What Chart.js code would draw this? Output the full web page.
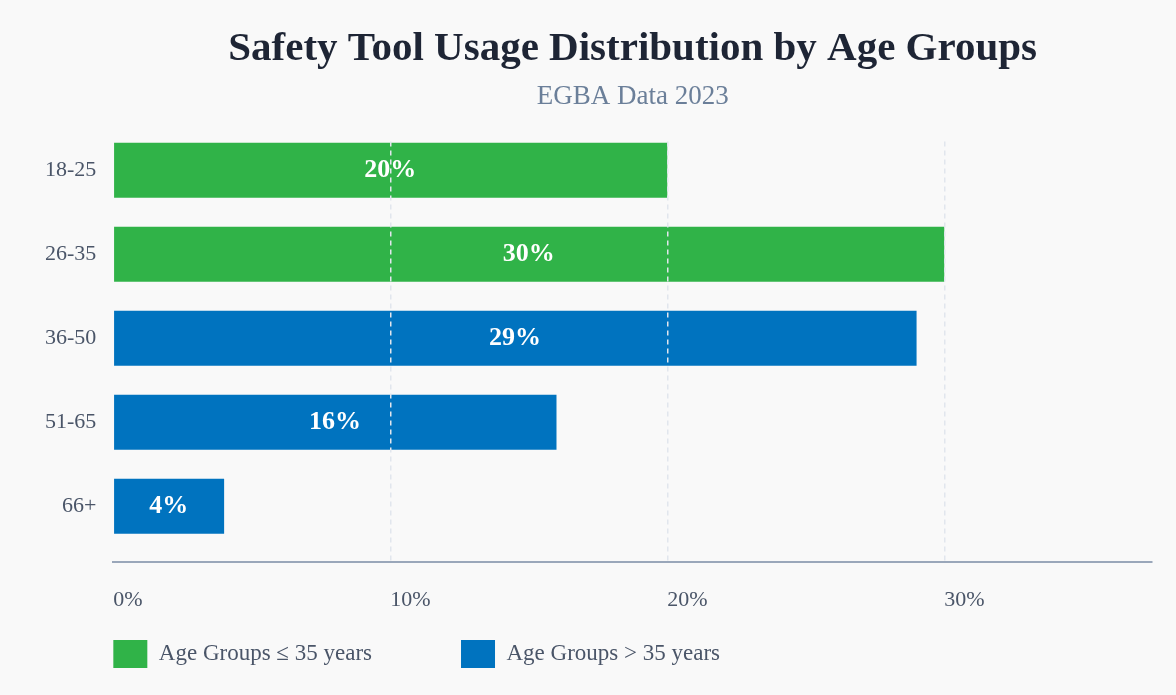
<!DOCTYPE html>
<html>
<head>
<meta charset="utf-8">
<script src="https://cdn.jsdelivr.net/npm/chart.js@4.4.0/dist/chart.umd.min.js"></script>
<style>
  html, body { margin: 0; padding: 0; background: #f9f9f9; }
  #wrap { width: 1176px; height: 695px; position: relative; }
</style>
</head>
<body>
<div id="wrap"><canvas id="usageChart"></canvas></div>
<script>
const ageGroups = ['18-25', '26-35', '36-50', '51-65', '66+'];
const youngUsage = [20, 30, null, null, null];
const olderUsage = [null, null, 29, 16, 4];
const legendLabels = ['Age Groups \u2264 35 years', 'Age Groups > 35 years'];
const xTicks = [0, 10, 20, 30];

const GREEN = '#30b348';
const BLUE = '#0073bf';
const SERIF = "'Liberation Serif', 'DejaVu Serif', serif";

function toPoints(values) {
    return values.map((v, i) => (v === null ? null : { x: v, y: i })).filter(p => p);
}

// paints the page background behind the chart
const bgPlugin = {
    id: 'bg',
    beforeDraw(chart) {
        const c = chart.ctx;
        c.save();
        c.fillStyle = '#f9f9f9';
        c.fillRect(0, 0, chart.width, chart.height);
        c.restore();
    }
};

// value labels in the middle of each bar
const barLabels = {
    id: 'barLabels',
    afterDatasetsDraw(chart) {
        const c = chart.ctx;
        const start = chart.scales.x.getPixelForValue(0);
        c.save();
        c.font = 'bold 26px ' + SERIF;
        c.fillStyle = '#ffffff';
        c.textAlign = 'center';
        c.textBaseline = 'middle';
        chart.data.datasets.forEach((ds, di) => {
            chart.getDatasetMeta(di).data.forEach((bar, i) => {
                c.fillText(ds.data[i].x + '%', (start + bar.x) / 2, bar.y);
            });
        });
        c.restore();
    }
};

// moves the legend row under the plot, starting at the plot's left edge
const legendPlace = {
    id: 'legendPlace',
    afterLayout(chart) {
        const lg = chart.legend;
        const pad = lg.options.labels.padding;
        const dx = chart.chartArea.left - (lg.left + pad);
        lg.left += dx;
        lg.right += dx;
        lg.top = 640 - pad;
        lg.bottom = chart.height;
        lg.height = lg.bottom - lg.top;
    }
};

const ctx = document.getElementById('usageChart').getContext('2d');

new Chart(ctx, {
    type: 'bar',
    data: {
        datasets: [
            {
                label: legendLabels[0],
                data: toPoints(youngUsage),
                backgroundColor: GREEN,
                borderWidth: 0
            },
            {
                label: legendLabels[1],
                data: toPoints(olderUsage),
                backgroundColor: BLUE,
                borderWidth: 0
            }
        ]
    },
    options: {
        indexAxis: 'y',
        responsive: true,
        maintainAspectRatio: false,
        animation: false,
        grouped: false,
        barPercentage: 0.655,
        categoryPercentage: 1,
        layout: { padding: { left: 28, right: 24, top: 0, bottom: 0 } },
        plugins: {
            title: {
                display: true,
                fullSize: false,
                text: 'Safety Tool Usage Distribution by Age Groups',
                color: '#1e2535',
                font: { family: SERIF, size: 41, weight: 'bold' },
                padding: { top: 25, bottom: 4 }
            },
            subtitle: {
                display: true,
                fullSize: false,
                text: 'EGBA Data 2023',
                color: '#6b7f99',
                font: { family: SERIF, size: 27 },
                padding: { top: 3, bottom: 28 }
            },
            legend: {
                position: 'bottom',
                align: 'start',
                maxHeight: 57,
                labels: {
                    boxWidth: 34,
                    boxHeight: 28,
                    padding: 89,
                    color: '#4a5568',
                    font: { family: SERIF, size: 23 }
                }
            },
            tooltip: { enabled: false }
        },
        scales: {
            x: {
                type: 'linear',
                min: 0,
                max: 37.5,
                afterBuildTicks: (scale) => {
                    scale.ticks = xTicks.map(v => ({ value: v }));
                },
                grid: {
                    z: 1,
                    color: (c) => (c.index === 0 ? 'rgba(0,0,0,0)' : '#e1e6ed'),
                    lineWidth: 1.5,
                    drawTicks: false
                },
                border: { display: true, z: 1, color: '#9aa7ba', width: 2, dash: [5, 4] },
                ticks: {
                    align: 'start',
                    padding: 25,
                    color: '#4a5568',
                    font: { family: SERIF, size: 22 },
                    callback: (v) => v + '%'
                }
            },
            y: {
                type: 'linear',
                reverse: true,
                offset: false,
                min: -0.34,
                max: 4.66,
                afterBuildTicks: (scale) => {
                    scale.ticks = ageGroups.map((_, i) => ({ value: i }));
                },
                grid: { display: false, offset: false, drawTicks: false },
                border: { display: false },
                ticks: {
                    padding: 17,
                    color: '#4a5568',
                    font: { family: SERIF, size: 22 },
                    callback: (v) => ageGroups[v]
                }
            }
        }
    },
    plugins: [bgPlugin, barLabels, legendPlace]
});
</script>
</body>
</html>
